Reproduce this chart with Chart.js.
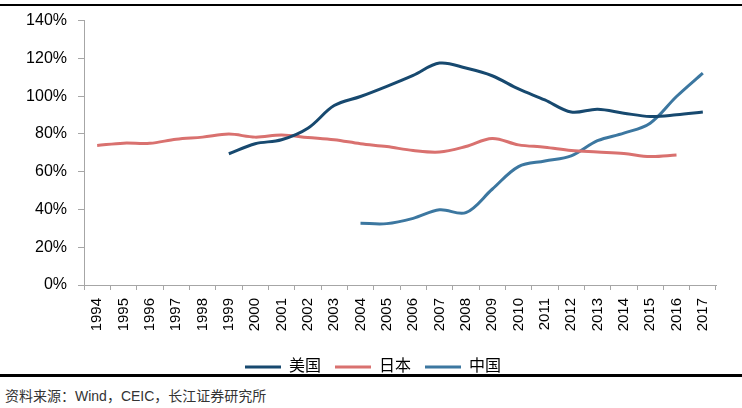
<!DOCTYPE html>
<html>
<head>
<meta charset="utf-8">
<script src="https://cdn.jsdelivr.net/npm/chart.js@4"></script>
<style>
  html, body { margin: 0; padding: 0; background: #fff; }
  #wrap { position: relative; width: 742px; height: 408px; overflow: hidden; }
  #chartBox { position: absolute; left: 0; top: 0; width: 742px; height: 385px; }
  .rule { position: absolute; left: 0; width: 742px; height: 2px; background: #000; }
  #source { position: absolute; left: 5px; top: 385px; font: 14px 'Liberation Sans', 'Noto Sans CJK SC', sans-serif; color: #333; }
</style>
</head>
<body>
<div id="wrap">
  <div class="rule" style="top:4px"></div>
  <div id="chartBox"><canvas id="ratioChart"></canvas></div>
  <div class="rule" style="top:374px;height:3px"></div>
  <div id="source">资料来源：Wind，CEIC，长江证券研究所</div>
</div>
<script>
// Years on the x axis
const years = ['1994', '1995', '1996', '1997', '1998', '1999', '2000', '2001', '2002', '2003', '2004', '2005',
  '2006', '2007', '2008', '2009', '2010', '2011', '2012', '2013', '2014', '2015', '2016', '2017'];

// Values in %
const usData = [null, null, null, null, null, 69.5, 74.8, 76.9, 83, 95, 99.8, 105.2,
  111, 117.5, 114.9, 110.8, 103.8, 98, 91.6, 93.1, 91, 89.2, 90.1, 91.6];
const japanData = [73.9, 75.1, 75, 77.2, 78.3, 79.9, 78.3, 79.4, 78.1, 76.9, 74.8, 73.3,
  71.2, 70.4, 73.3, 77.6, 74.2, 73, 71.2, 70.4, 69.6, 68, 68.8, null];
const chinaData = [null, null, null, null, null, null, null, null, null, null, 32.7, 32.5,
  35.3, 39.8, 38.3, 50.7, 62.7, 65.7, 68.4, 76.4, 80.4, 85.7, 99.8, 112.2];

const yTicks = [0, 20, 40, 60, 80, 100, 120, 140];

const fontFamily = "'Liberation Sans', 'Noto Sans CJK SC', sans-serif";
const axisGray = '#a6a6a6';

// legend in the original sits centred under the plot area, not the whole canvas
const legendShift = {
  id: 'legendShift',
  afterLayout(chart) {
    chart.legend.left += 15;
    chart.legend.right += 15;
  }
};

document.addEventListener("DOMContentLoaded", function () {
  const ctx = document.getElementById('ratioChart').getContext('2d');

  new Chart(ctx, {
    type: 'line',
    data: {
      labels: years,
      datasets: [
        { label: '美国', data: usData, borderColor: '#17496f', backgroundColor: '#17496f' },
        { label: '日本', data: japanData, borderColor: '#d9716f', backgroundColor: '#d9716f' },
        { label: '中国', data: chinaData, borderColor: '#3c77a0', backgroundColor: '#3c77a0' }
      ]
    },
    plugins: [legendShift],
    options: {
      responsive: true,
      maintainAspectRatio: false,
      animation: false,
      elements: {
        line: { borderWidth: 3, tension: 0.35 },
        point: { radius: 0 }
      },
      layout: { padding: { top: 16, right: 26, left: 0, bottom: 0 } },
      scales: {
        x: {
          offset: true,
          grid: { offset: true, drawOnChartArea: false, drawTicks: true, tickLength: 5, color: axisGray },
          border: { display: true, color: axisGray, width: 1 },
          ticks: {
            color: '#000', padding: 8, maxRotation: 90, minRotation: 90, autoSkip: false,
            font: { family: fontFamily, size: 15 }
          },
          afterFit: function (scale) { scale.height = 60; }
        },
        y: {
          min: 0,
          max: 140,
          afterBuildTicks: function (scale) { scale.ticks = yTicks.map(v => ({ value: v })); },
          grid: { drawOnChartArea: false, drawTicks: true, tickLength: 6, color: axisGray },
          border: { display: true, color: axisGray, width: 1 },
          ticks: {
            color: '#000', padding: 11,
            font: { family: fontFamily, size: 16 },
            callback: function (v) { return v + '%'; }
          },
          afterFit: function (scale) { scale.width = 84; }
        }
      },
      plugins: {
        tooltip: { enabled: false },
        legend: {
          position: 'bottom',
          labels: {
            boxWidth: 36,
            boxHeight: 3,
            padding: 14,
            color: '#000',
            font: { family: fontFamily, size: 16 },
            generateLabels: function (chart) {
              const items = Chart.defaults.plugins.legend.labels.generateLabels(chart);
              items.forEach(it => { it.lineWidth = 0; it.fillStyle = it.strokeStyle; });
              return items;
            }
          }
        }
      }
    }
  });
});
</script>
</body>
</html>
